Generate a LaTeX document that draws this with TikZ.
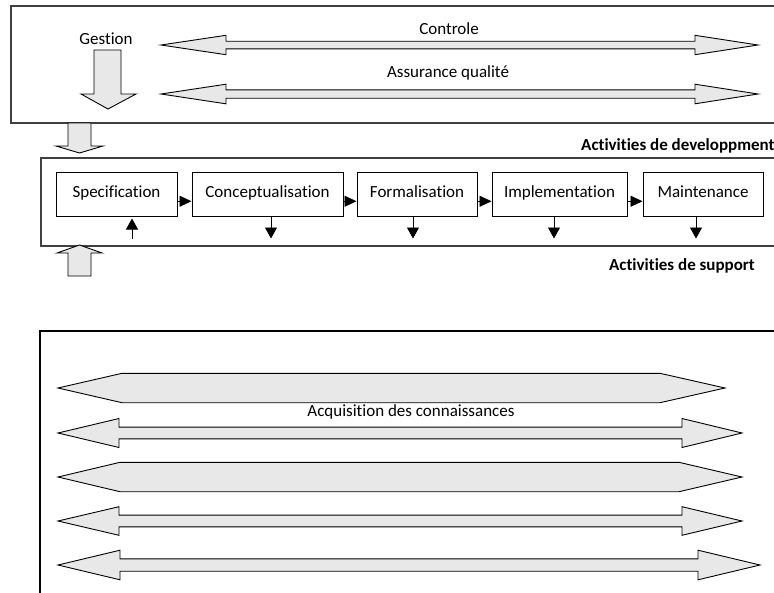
\documentclass[tikz,border=0pt]{standalone}
\usepackage{fontspec}
\setmainfont{Carlito}[Ligatures=NoCommon]
\usetikzlibrary{arrows.meta}
\definecolor{arrfill}{HTML}{E8E8E8}
\definecolor{framecol}{HTML}{404040}
\newcommand\dblarr[7]{%
  \draw[blockarrow] (#1,#5) -- (#2,#5-#6) -- (#2,#5-#7) -- (#3,#5-#7) -- (#3,#5-#6) -- (#4,#5)
    -- (#3,#5+#6) -- (#3,#5+#7) -- (#2,#5+#7) -- (#2,#5+#6) -- cycle;}
\newcommand\hexarr[6]{%
  \draw[blockarrow] (#1,#5) -- (#2,#5-#6) -- (#3,#5-#6) -- (#4,#5) -- (#3,#5+#6) -- (#2,#5+#6) -- cycle;}
\begin{document}
\begin{tikzpicture}[x=1pt,y=-1pt,
  every node/.style={font=\fontsize{17}{20}\selectfont},
  framebox/.style={draw=framecol, line width=1.5pt},
  lowframe/.style={draw=black, line width=1.1pt},
  blockarrow/.style={draw=black, line width=0.9pt, fill=arrfill, line join=miter},
  procbox/.style={draw=black, line width=1pt, minimum height=43.5pt, inner sep=0pt,
    text height=11pt, text depth=5pt},
  flowarrow/.style={-{Triangle[length=12pt,width=11pt]}, line width=0.8pt},
  droparrow/.style={-{Triangle[length=11pt,width=12pt]}, line width=0.8pt},
  lbl/.style={inner sep=0pt},
  boldlbl/.style={inner sep=0pt, font=\fontsize{17}{20}\selectfont\bfseries}]
\useasboundingbox (0,0) rectangle (774,592);
\clip (0,0) rectangle (774,592);
% frames
\draw[framebox] (11,6) rectangle (800,123);
\draw[framebox] (41,158) rectangle (800,246);
\draw[lowframe] (40,331) rectangle (800,620);
% top section
\node[lbl] (gestion) at (106,39) {Gestion};
\node[lbl] (controle) at (449,29) {Controle};
\node[lbl] (assur) at (448,73) {Assurance qualité};
\dblarr{161}{226}{695}{758}{45}{9.7}{3.8}
\dblarr{161}{226}{695}{758}{94}{9.8}{4.2}
\draw[blockarrow] (94,50) -- (121,50) -- (121,94) -- (136,94) -- (108,109) -- (81,94) -- (94,94) -- cycle;
\draw[blockarrow] (68,123) -- (91,123) -- (91,146) -- (103,146) -- (79.5,153) -- (56,146) -- (68,146) -- cycle;
\draw[blockarrow] (68,276) -- (91,276) -- (91,253) -- (102,253) -- (79.5,245) -- (57,253) -- (68,253) -- cycle;
% labels
\node[boldlbl, anchor=west] (devlbl) at (581,146) {Activities de developpment};
\node[boldlbl] (suplbl) at (682,266) {Activities de support};
% process boxes
\node[procbox, minimum width=121pt] (spec) at (116.5,194.25) {Specification};
\node[procbox, minimum width=151pt] (con) at (267.5,194.25) {Conceptualisation};
\node[procbox, minimum width=120pt] (form) at (417,194.25) {Formalisation};
\node[procbox, minimum width=135pt] (impl) at (559.5,194.25) {Implementation};
\node[procbox, minimum width=120pt] (maint) at (703,194.25) {Maintenance};
\draw[flowarrow] ([yshift=-7pt]spec.east) -- ([yshift=-7pt]con.west);
\draw[flowarrow] ([yshift=-7pt]con.east) -- ([yshift=-7pt]form.west);
\draw[flowarrow] ([yshift=-7pt]form.east) -- ([yshift=-7pt]impl.west);
\draw[flowarrow] ([yshift=-7pt]impl.east) -- ([yshift=-7pt]maint.west);
\coordinate (specin) at ([xshift=15.5pt,yshift=-22pt]spec.south);
\draw[droparrow] (specin) -- ([xshift=15.5pt,yshift=-2pt]spec.south);
\coordinate (conout) at ([xshift=3.5pt,yshift=-22pt]con.south);
\coordinate (formout) at ([xshift=-4pt,yshift=-22pt]form.south);
\coordinate (implout) at ([xshift=-5.5pt,yshift=-22pt]impl.south);
\coordinate (maintout) at ([xshift=-7pt,yshift=-22pt]maint.south);
\draw[droparrow] ([xshift=3.5pt]con.south) -- (conout);
\draw[droparrow] ([xshift=-4pt]form.south) -- (formout);
\draw[droparrow] ([xshift=-5.5pt]impl.south) -- (implout);
\draw[droparrow] ([xshift=-7pt]maint.south) -- (maintout);
% bottom section
\hexarr{58}{122}{660}{725}{388}{14.7}
\node[lbl] (acq) at (411,412) {Acquisition des connaissances};
\dblarr{58}{119}{682}{742}{433}{14.5}{5.9}
\hexarr{58}{120}{679}{742}{477}{14.7}
\dblarr{58}{119}{682}{742}{521}{14.3}{5.9}
\dblarr{58}{120}{698}{760}{565}{14.8}{6.2}
\end{tikzpicture}
\end{document}
